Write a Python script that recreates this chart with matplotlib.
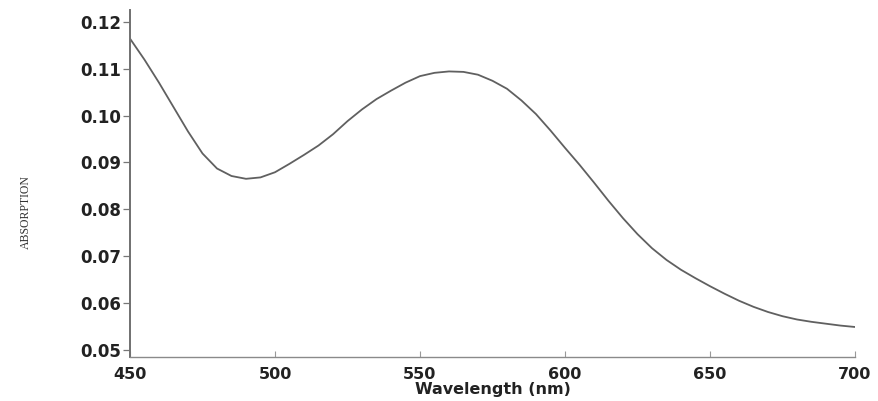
import matplotlib
matplotlib.use("Agg")
import matplotlib.pyplot as plt

wavelength = [450, 455, 460, 465, 470, 475, 480, 485, 490, 495, 500, 505, 510, 515,
              520, 525, 530, 535, 540, 545, 550, 555, 560, 565, 570, 575, 580, 585,
              590, 595, 600, 605, 610, 615, 620, 625, 630, 635, 640, 645, 650, 655,
              660, 665, 670, 675, 680, 685, 690, 695, 700]
absorption = [0.1164, 0.1119, 0.1070, 0.1018, 0.0966, 0.0919, 0.0887, 0.0871, 0.0865,
              0.0868, 0.0879, 0.0897, 0.0916, 0.0936, 0.0960, 0.0988, 0.1013, 0.1035,
              0.1053, 0.1070, 0.1084, 0.1091, 0.1094, 0.1093, 0.1087, 0.1074, 0.1057,
              0.1032, 0.1003, 0.0968, 0.0931, 0.0895, 0.0857, 0.0818, 0.0781, 0.0747,
              0.0717, 0.0692, 0.0671, 0.0653, 0.0636, 0.0620, 0.0605, 0.0592, 0.0581,
              0.0572, 0.0565, 0.0560, 0.0556, 0.0552, 0.0549]
xticks = [450, 500, 550, 600, 650, 700]
yticks = [0.05, 0.06, 0.07, 0.08, 0.09, 0.10, 0.11, 0.12]

fig = plt.figure(figsize=(8.79, 4.01), dpi=100)
ax = fig.add_axes([130/879, 1 - 357/401, (855-130)/879, (357-10)/401])

ax.plot(wavelength, absorption, color="#606060", lw=1.3)

ax.set_xlim(450, 700)
ax.set_ylim(0.0485, 0.1225)
ax.spines["top"].set_visible(False)
ax.spines["right"].set_visible(False)
ax.spines["left"].set_color("#707070")
ax.spines["left"].set_linewidth(1.4)
ax.spines["bottom"].set_color("#8a8a8a")
ax.spines["bottom"].set_linewidth(1.0)

ax.set_xticks(xticks)
ax.set_xticklabels([str(v) for v in xticks])
ax.set_yticks(yticks)
ax.set_yticklabels([f"{v:.2f}" for v in yticks])

ax.tick_params(axis="y", direction="out", length=5, width=0.9, color="#777777", pad=1.5)
ax.tick_params(axis="x", direction="in", length=4, width=0.8, color="#999999", pad=7)
for lab in ax.get_yticklabels():
    lab.set_fontfamily("DejaVu Sans")
    lab.set_fontweight("bold")
    lab.set_fontsize(12)
    lab.set_color("#222222")
for lab in ax.get_xticklabels():
    lab.set_fontfamily("DejaVu Sans")
    lab.set_fontweight("bold")
    lab.set_fontsize(11.5)
    lab.set_color("#222222")

ax.set_xlabel("Wavelength (nm)", fontfamily="DejaVu Sans", fontweight="bold",
              fontsize=11.5, color="#222222", labelpad=0)
fig.text(26/879, 1 - 212/401, "ABSORPTION", rotation=90, ha="center", va="center",
         fontfamily="Liberation Serif", fontsize=8.5, color="#333333")

fig.savefig("out.png", dpi=100, facecolor="white")
